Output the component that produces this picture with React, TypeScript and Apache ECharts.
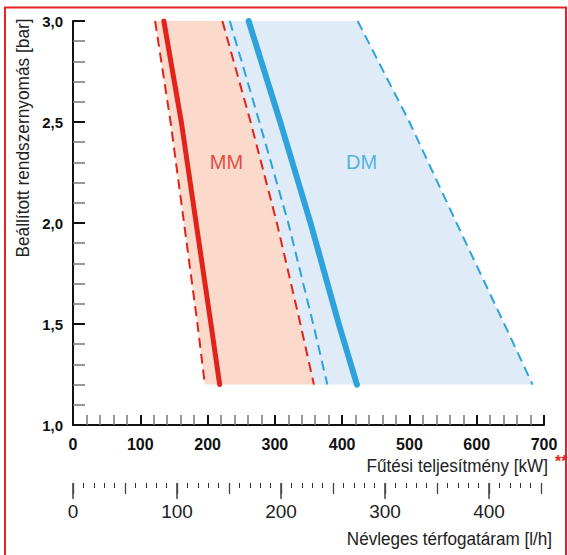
import React, { useEffect, useRef } from "react";
import * as echarts from "echarts";

// Pressure levels (bar) at which the boundary curves are sampled
const pressureLevels = [3.0, 2.5, 2.0, 1.5, 1.2];
// Heating output (kW) of each boundary curve at those pressures
const mmMinKW = [122, 145, 165, 185, 196];
const mmNomKW = [135, 161, 183, 205, 218];
const mmMaxKW = [222, 264, 303, 338, 358];
const dmMinKW = [233, 277, 320, 357, 378];
const dmNomKW = [261, 308, 353, 395, 422];
const dmMaxKW = [423, 500, 570, 641, 683];
// Region labels
const regionNames = ["MM", "DM"];
const regionLabelKW = [228, 429];
const regionLabelBar = [2.3, 2.3];
// Secondary axis (flow, l/h) labelled ticks
const flowMajorTicks = [0, 100, 200, 300, 400];

const RED = "#e2231a";
const BLUE = "#2ea2db";
const PINK_FILL = "#fcdacb";
const BLUE_FILL = "#dfebf7";
const FONT = "Liberation Sans, Arial, sans-serif";

function pairs(kw: number[]) {
  return kw.map((x, i) => [x, pressureLevels[i]]);
}

export default function App() {
  const ref = useRef<HTMLDivElement>(null);
  useEffect(() => {
    const chart = echarts.init(ref.current!, null, { renderer: "svg" });

    const band = (left: number[], right: number[], fill: string) => ({
      type: "custom",
      xAxisIndex: 0,
      yAxisIndex: 0,
      silent: true,
      data: [[left[0], pressureLevels[0]]],
      renderItem: (_params: any, api: any) => {
        const pts: number[][] = [];
        left.forEach((x, i) => pts.push(api.coord([x, pressureLevels[i]])));
        for (let i = right.length - 1; i >= 0; i--) {
          pts.push(api.coord([right[i], pressureLevels[i]]));
        }
        return { type: "polygon", shape: { points: pts }, style: { fill, stroke: null } };
      },
    });

    const line = (kw: number[], color: string, width: number, dashed: boolean) => ({
      type: "line",
      xAxisIndex: 0,
      yAxisIndex: 0,
      data: pairs(kw),
      symbol: "none",
      silent: true,
      lineStyle: {
        color,
        width,
        type: dashed ? [10, 6] : "solid",
        cap: dashed ? "butt" : "round",
      },
    });

    const labelColors = [RED, BLUE];

    const option: any = {
      animation: false,
      grid: [
        { left: 73, top: 21, width: 471, height: 404, containLabel: false },
        { left: 73, top: 482, width: 468, height: 1, containLabel: false },
      ],
      xAxis: [
        {
          type: "value",
          gridIndex: 0,
          min: 0,
          max: 700,
          interval: 100,
          position: "bottom",
          axisLine: { show: true, onZero: false, lineStyle: { color: "#111", width: 2 } },
          axisTick: { show: true, inside: true, length: 10, lineStyle: { color: "#111", width: 2 } },
          minorTick: { show: true, splitNumber: 5, length: 10, lineStyle: { color: "#777", width: 1.5 } },
          axisLabel: { margin: 11, fontSize: 16, fontWeight: "bold", color: "#111", fontFamily: FONT },
          splitLine: { show: false },
          minorSplitLine: { show: false },
        },
        {
          type: "value",
          gridIndex: 1,
          min: 0,
          max: 450,
          position: "bottom",
          axisLine: { show: false },
          axisTick: { show: true, length: 16, customValues: flowMajorTicks, lineStyle: { color: "#444", width: 1.5 } },
          axisLabel: { customValues: flowMajorTicks, margin: 19, fontSize: 19, color: "#222", fontFamily: FONT },
          splitLine: { show: false },
        },
        {
          type: "value",
          gridIndex: 1,
          min: 0,
          max: 450,
          interval: 50,
          position: "bottom",
          axisLine: { show: false },
          axisTick: { show: true, length: 11, lineStyle: { color: "#444", width: 1.3 } },
          minorTick: { show: true, splitNumber: 5, length: 5, lineStyle: { color: "#333", width: 1 } },
          axisLabel: { show: false },
          splitLine: { show: false },
        },
      ],
      yAxis: [
        {
          type: "value",
          gridIndex: 0,
          min: 1,
          max: 3,
          interval: 0.5,
          axisLine: { show: true, onZero: false, lineStyle: { color: "#111", width: 2 } },
          axisTick: { show: true, inside: true, length: 12, lineStyle: { color: "#111", width: 2 } },
          minorTick: { show: true, splitNumber: 5, length: 12, lineStyle: { color: "#777", width: 1.5 } },
          axisLabel: {
            margin: 10,
            fontSize: 15,
            fontWeight: "bold",
            color: "#111",
            fontFamily: FONT,
            formatter: (v: number) => v.toFixed(1).replace(".", ","),
          },
          splitLine: { show: false },
          minorSplitLine: { show: false },
        },
        { type: "value", gridIndex: 1, show: false, min: 0, max: 1 },
      ],
      series: [
        band(mmMaxKW, dmMaxKW, BLUE_FILL),
        band(mmMinKW, mmMaxKW, PINK_FILL),
        line(mmMinKW, RED, 2, true),
        line(mmMaxKW, RED, 2, true),
        line(dmMinKW, BLUE, 2, true),
        line(dmMaxKW, BLUE, 2, true),
        line(mmNomKW, RED, 5, false),
        line(dmNomKW, BLUE, 6, false),
        {
          type: "scatter",
          xAxisIndex: 0,
          yAxisIndex: 0,
          symbolSize: 0,
          silent: true,
          data: regionNames.map((n, i) => ({
            name: n,
            value: [regionLabelKW[i], regionLabelBar[i]],
            label: { color: labelColors[i] },
          })),
          label: {
            show: true,
            position: "inside",
            formatter: (p: any) => p.name,
            fontSize: 20,
            fontFamily: FONT,
          },
        },
      ],
      graphic: [
        {
          type: "rect",
          silent: true,
          z: 100,
          shape: { x: 5, y: 7.5, width: 561, height: 600 },
          style: { fill: "none", stroke: "#e52421", lineWidth: 2 },
        },
        {
          type: "text",
          x: 548,
          y: 466,
          scaleX: 0.9,
          style: {
            text: "Fűtési teljesítmény [kW]",
            fontSize: 19,
            fontFamily: FONT,
            fill: "#222",
            align: "right",
            verticalAlign: "middle",
          },
        },
        {
          type: "text",
          x: 555,
          y: 461,
          style: {
            text: "**",
            fontSize: 16,
            fontWeight: "bold",
            fontFamily: FONT,
            fill: "#e52421",
            align: "left",
            verticalAlign: "middle",
          },
        },
        {
          type: "text",
          x: 552,
          y: 539,
          scaleX: 0.9,
          style: {
            text: "Névleges térfogatáram [l/h]",
            fontSize: 19,
            fontFamily: FONT,
            fill: "#222",
            align: "right",
            verticalAlign: "middle",
          },
        },
        {
          type: "text",
          x: 23,
          y: 138,
          rotation: Math.PI / 2,
          scaleX: 0.91,
          style: {
            text: "Beállított rendszernyomás [bar]",
            fontSize: 19,
            fontFamily: FONT,
            fill: "#222",
            align: "center",
            verticalAlign: "middle",
          },
        },
      ],
    };

    chart.setOption(option);
    return () => chart.dispose();
  }, []);

  return (
    <div
      ref={ref}
      style={{ position: "fixed", left: 0, top: 0, width: 568, height: 555, background: "#fff" }}
    />
  );
}
